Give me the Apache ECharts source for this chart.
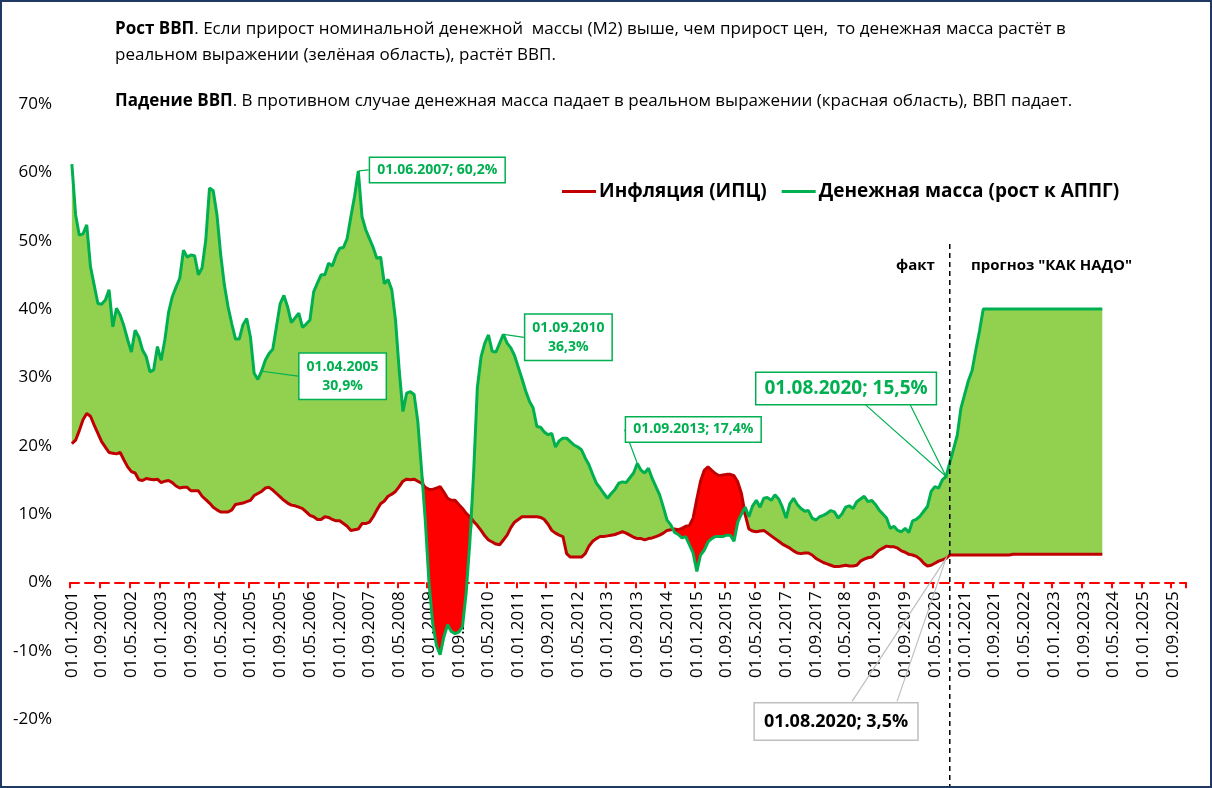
<!DOCTYPE html>
<html><head><meta charset="utf-8">
<script src="https://cdn.jsdelivr.net/npm/echarts@6/dist/echarts.min.js"></script>
<style>
html,body{margin:0;padding:0;background:#fff}
#c{width:1212px;height:788px;position:absolute;left:0;top:0}
#frame{position:absolute;left:0;top:0;width:1212px;height:788px;box-sizing:border-box;border:2px solid #1F3864;pointer-events:none}
</style>
</head><body><div id="c"></div><div id="frame"></div>
<script>
// ---------- categories (monthly, 01.01.2001 .. 01.12.2025) ----------
const categories = [];
for (let y = 2001; y <= 2025; y++) for (let mo = 1; mo <= 12; mo++) categories.push('01.' + String(mo).padStart(2, '0') + '.' + y);

// ---------- Money supply M2, growth y/y, % (fact 2001-01 .. 2020-08) ----------
const m2_2001_2004 = [
  61.2, 53.8, 50.8, 51.0, 52.3, 46.2, 43.5, 40.8, 40.7, 41.3, 42.8, 37.4,
  40.1, 39.1, 37.5, 35.5, 33.7, 36.9, 35.9, 34.0, 33.0, 30.8, 31.1, 34.5,
  32.5, 35.5, 39.5, 41.8, 43.2, 44.5, 48.6, 47.6, 47.9, 47.8, 45.0, 46.0,
  50.1, 57.7, 57.3, 53.8, 48.0, 43.5, 40.3, 37.8, 35.6, 35.6, 37.7, 38.6
];
const m2_2005_2008 = [
  35.9, 30.6, 29.7, 30.9, 32.5, 33.5, 34.1, 37.4, 40.8, 42.0, 40.3, 38.0,
  38.7, 39.4, 37.3, 37.8, 38.4, 42.5, 43.8, 45.0, 45.0, 46.7, 46.3, 47.8,
  48.9, 49.0, 50.3, 53.5, 56.5, 60.2, 53.5, 51.6, 50.3, 49.0, 47.4, 47.6,
  43.7, 44.3, 42.8, 38.4, 31.0, 25.0, 27.7, 27.9, 27.5, 23.5, 16.5, 9.1
];
const m2_2009_2012 = [
  0.0, -6.0, -9.2, -10.6, -8.0, -6.2, -7.2, -7.5, -7.3, -6.5, -1.5, 6.0,
  16.0, 28.5, 33.0, 35.0, 36.2, 33.8, 33.7, 35.0, 36.3, 35.0, 34.3, 33.2,
  31.5, 29.8, 28.0, 26.5, 25.5, 22.8, 22.7, 22.0, 21.6, 21.8, 19.8, 20.7,
  21.1, 21.1, 20.6, 20.1, 19.8, 19.4, 18.2, 17.2, 15.8, 14.5, 13.8, 13.0
];
const m2_2013_2016 = [
  12.3, 13.0, 13.6, 14.5, 14.7, 14.6, 15.3, 16.0, 17.4, 16.4, 16.0, 16.7,
  15.2, 14.0, 12.8, 11.0, 9.1, 8.4, 7.3, 7.0, 6.5, 6.7, 5.5, 4.3,
  1.6, 4.0, 4.7, 5.9, 6.4, 6.7, 6.7, 6.7, 6.9, 6.9, 6.0, 8.8,
  10.0, 11.0, 9.6, 11.2, 12.0, 11.0, 12.3, 12.4, 12.0, 12.8, 12.2, 11.0
];
const m2_2017_2020 = [
  9.4, 11.5, 12.3, 11.4, 10.8, 10.4, 10.5, 9.4, 9.1, 9.6, 9.8, 10.1,
  10.5, 10.3, 9.4, 10.0, 11.0, 11.2, 10.8, 11.8, 12.2, 12.6, 11.8, 12.0,
  11.4, 10.6, 10.0, 9.4, 7.9, 8.2, 7.6, 7.4, 7.9, 7.3, 9.0, 9.2,
  9.7, 10.4, 11.1, 13.3, 14.0, 13.8, 15.0, 15.5
];
// forecast "КАК НАДО" 2020-09 .. 2024-02
const m2Forecast = [
  17.5, 19.5, 21.5, 25.5, 27.5, 29.5, 31.0, 34.0, 36.8,
  40.0, 40.0, 40.0, 40.0, 40.0, 40.0, 40.0, 40.0, 40.0, 40.0, 40.0,
  40.0, 40.0, 40.0, 40.0, 40.0, 40.0, 40.0, 40.0, 40.0, 40.0, 40.0,
  40.0, 40.0, 40.0, 40.0, 40.0, 40.0, 40.0, 40.0, 40.0, 40.0, 40.0
];

// ---------- Inflation CPI y/y, % ----------
const cpi_2001_2004 = [
  20.3, 20.8, 22.2, 23.8, 24.7, 24.3, 23.0, 21.8, 20.6, 19.8, 19.0, 18.9,
  18.8, 19.0, 17.9, 16.9, 16.2, 16.0, 15.0, 14.9, 15.2, 15.1, 15.0, 15.1,
  14.6, 14.8, 14.9, 14.6, 14.1, 13.8, 13.9, 13.9, 13.4, 13.4, 13.4, 12.6,
  12.1, 11.6, 11.0, 10.6, 10.3, 10.3, 10.3, 10.6, 11.4, 11.5, 11.6, 11.8
];
const cpi_2005_2008 = [
  12.0, 12.7, 13.0, 13.3, 13.8, 13.9, 13.5, 13.0, 12.5, 12.0, 11.6, 11.3,
  11.2, 11.0, 10.8, 10.3, 9.8, 9.6, 9.2, 9.2, 9.6, 9.5, 9.2, 9.0,
  9.0, 8.6, 8.2, 7.6, 7.7, 7.8, 8.6, 8.6, 8.8, 9.6, 10.6, 11.5,
  11.9, 12.6, 12.9, 13.3, 14.0, 14.8, 15.1, 15.0, 15.1, 14.8, 14.5, 13.9
];
const cpi_2009_2012 = [
  13.6, 13.6, 13.8, 14.0, 13.2, 12.3, 12.0, 12.0, 11.4, 10.8, 10.1, 9.6,
  8.9, 8.3, 7.6, 6.8, 6.2, 5.9, 5.6, 5.5, 6.2, 6.9, 8.0, 8.8,
  9.2, 9.6, 9.6, 9.6, 9.6, 9.6, 9.5, 9.2, 8.5, 7.6, 7.2, 6.9,
  6.7, 4.2, 3.7, 3.7, 3.7, 3.7, 4.2, 5.3, 6.0, 6.4, 6.7, 6.7
];
const cpi_2013_2016 = [
  6.8, 6.9, 7.0, 7.2, 7.4, 7.2, 6.9, 6.6, 6.4, 6.4, 6.2, 6.4,
  6.5, 6.7, 6.9, 7.2, 7.6, 7.7, 7.8, 7.7, 7.9, 8.2, 8.3, 9.4,
  12.2, 14.8, 16.4, 16.9, 16.4, 15.9, 15.6, 15.7, 15.8, 15.8, 15.6, 14.7,
  13.0, 9.9, 7.8, 7.5, 7.4, 7.5, 7.6, 7.2, 6.8, 6.4, 6.0, 5.6
];
const cpi_2017_2020 = [
  5.3, 5.0, 4.6, 4.3, 4.2, 4.3, 4.3, 4.0, 3.5, 3.2, 2.9, 2.7,
  2.5, 2.3, 2.3, 2.4, 2.5, 2.4, 2.4, 2.5, 3.1, 3.4, 3.6, 3.7,
  4.2, 4.7, 5.0, 5.3, 5.2, 5.2, 5.0, 4.6, 4.4, 4.1, 4.0, 3.8,
  3.4, 2.8, 2.4, 2.5, 2.8, 3.1, 3.3, 3.5
];
const cpiForecast = [
  4.0, 4.0, 4.0, 4.0, 4.0, 4.0, 4.0, 4.0, 4.0, 4.0, 4.0, 4.0, 4.0, 4.0, 4.0, 4.0, 4.0,
  4.1, 4.1, 4.1, 4.1, 4.1, 4.1, 4.1, 4.1, 4.1, 4.1, 4.1, 4.1, 4.1,
  4.1, 4.1, 4.1, 4.1, 4.1, 4.1, 4.1, 4.1, 4.1, 4.1, 4.1, 4.1
];

// ---------- callouts (date of the point) ----------
const greenCallouts = ['01.04.2005', '01.06.2007', '01.09.2010', '01.09.2013', '01.08.2020'];
const redCallouts = ['01.08.2020'];
const FACT_END = '01.09.2020';
const Y_MIN = -20, Y_MAX = 70, Y_STEP = 10;

// ---------- build ----------
const FONT = "'Open Sans', 'Noto Sans', sans-serif";
const GRID = { left: 70, right: 26, top: 104, bottom: 69 };
const gridH = 788 - GRID.top - GRID.bottom;
const m2 = [].concat(m2_2001_2004, m2_2005_2008, m2_2009_2012, m2_2013_2016, m2_2017_2020, m2Forecast);
const cpi = [].concat(cpi_2001_2004, cpi_2005_2008, cpi_2009_2012, cpi_2013_2016, cpi_2017_2020, cpiForecast);
const full = arr => categories.map((_, i) => (i < arr.length ? arr[i] : null));
const G = full(m2), R = full(cpi);
const base = G.map((g, i) => (g == null || R[i] == null ? null : Math.min(g, R[i])));
const gBand = G.map((g, i) => (g == null || R[i] == null ? null : Math.max(g - R[i], 0)));
const rBand = G.map((g, i) => (g == null || R[i] == null ? null : Math.max(R[i] - g, 0)));

const fmt = v => v.toFixed(1).replace('.', ',') + '%';
// callout box offsets (box centre relative to its point) and wedge bases (relative to box centre)
const greenLayout = {
  '01.04.2005': { dx: 81, dy: 5, twoLine: true },
  '01.06.2007': { dx: 79, dy: -1 },
  '01.09.2010': { dx: 65, dy: 3, twoLine: true },
  '01.09.2013': { dx: 56, dy: -34 },
  '01.08.2020': { dx: -100, dy: -88, big: true, wedge: [[19, 16], [64, 16]] }
};
const redLayout = { dx: -110, dy: 163, wedge: [[16, -20], [61, -20]] };

const greenAnnData = greenCallouts.map(d => {
  const i = categories.indexOf(d);
  const L = greenLayout[d];
  return {
    value: [d, G[i]], name: d,
    labelLine: { show: !L.wedge },
    label: {
      formatter: L.twoLine ? d + '\n' + fmt(G[i]) : d + '; ' + fmt(G[i]),
      fontSize: L.big ? 19 : 14,
      lineHeight: L.big ? 24 : 19,
      padding: L.big ? [4, 8, 3, 8] : (L.twoLine ? [4, 7, 3, 7] : [3, 7, 2, 7])
    }
  };
});
const redAnnData = redCallouts.map(d => {
  const i = categories.indexOf(d);
  return { value: [d, R[i]], name: d, label: { formatter: d + '; ' + fmt(R[i]) } };
});

const chart = echarts.init(document.getElementById('c'), null, { renderer: 'canvas' });
const bandCommon = { type: 'line', stack: 'band', stackStrategy: 'all', symbol: 'none', silent: true, lineStyle: { width: 0, opacity: 0 }, z: 1 };

chart.setOption({
  animation: false,
  backgroundColor: '#fff',
  textStyle: { fontFamily: FONT },
  grid: Object.assign({ containLabel: false, outerBoundsMode: 'none' }, GRID),
  legend: {
    data: [{ name: 'Инфляция (ИПЦ)', icon: 'rect' }, { name: 'Денежная масса (рост к АППГ)', icon: 'rect' }],
    left: 557, top: 177, itemWidth: 34, itemHeight: 3, itemGap: 15, selectedMode: false,
    textStyle: { fontSize: 19, fontWeight: 'bold', color: '#000', fontFamily: FONT, padding: [0, 0, 0, -2] }
  },
  xAxis: {
    type: 'category', data: categories, boundaryGap: true, position: 'bottom',
    offset: -gridH * (0 - Y_MIN) / (Y_MAX - Y_MIN),
    axisLine: { onZero: false, lineStyle: { color: '#FF0000', width: 2, type: [9, 6] } },
    axisTick: { show: true, interval: 7, length: 6, lineStyle: { color: '#FF0000', width: 2 } },
    axisLabel: { interval: 7, rotate: 90, fontSize: 17, color: '#000', fontFamily: FONT, margin: 9 },
    splitLine: { show: false }
  },
  yAxis: {
    type: 'value', min: Y_MIN, max: Y_MAX, interval: Y_STEP,
    axisLine: { show: false }, axisTick: { show: false }, splitLine: { show: false },
    axisLabel: { formatter: '{value}%', fontSize: 17, color: '#000', fontFamily: FONT, margin: 18 }
  },
  series: [
    Object.assign({ name: 'base', data: base }, bandCommon),
    Object.assign({ name: 'gBand', data: gBand, areaStyle: { color: '#92D050', opacity: 1 } }, bandCommon),
    Object.assign({ name: 'rBand', data: rBand, areaStyle: { color: '#FF0000', opacity: 1 } }, bandCommon),
    {
      name: 'Инфляция (ИПЦ)', type: 'line', data: R, symbol: 'none', z: 3,
      lineStyle: { color: '#C00000', width: 3 }, itemStyle: { color: '#C00000' }
    },
    {
      name: 'Денежная масса (рост к АППГ)', type: 'line', data: G, symbol: 'none', z: 4,
      lineStyle: { color: '#00B050', width: 3 }, itemStyle: { color: '#00B050' }
    },
    {
      name: 'greenAnn', type: 'scatter', data: greenAnnData, symbolSize: 1, z: 6,
      itemStyle: { color: 'transparent', opacity: 1 },
      label: {
        show: true, position: 'inside', color: '#00B050', fontWeight: 'bold', fontFamily: FONT, opacity: 1,
        backgroundColor: '#ffffff', borderColor: '#00B050', borderWidth: 1.5, align: 'center'
      },
      labelLine: { show: true, lineStyle: { color: '#00B050', width: 1.2, opacity: 1 } },
      labelLayout: p => { const L = greenLayout[greenCallouts[p.dataIndex]]; return { dx: L.dx, dy: L.dy }; }
    },
    {
      name: 'redAnn', type: 'scatter', data: redAnnData, symbolSize: 1, z: 6,
      itemStyle: { color: 'transparent', opacity: 1 },
      label: {
        show: true, position: 'inside', color: '#000', fontWeight: 'bold', fontSize: 18, fontFamily: FONT, opacity: 1,
        backgroundColor: '#ffffff', borderColor: '#BFBFBF', borderWidth: 1.5, padding: [10, 9, 8, 9]
      },
      labelLine: { show: false },
      labelLayout: () => ({ dx: redLayout.dx, dy: redLayout.dy })
    }
  ]
});

// texts, callout wedges and the fact/forecast separator (all anchored through the axis scales)
const toPx = (cat, v) => chart.convertToPixel({ xAxisIndex: 0, yAxisIndex: 0 }, [cat, v]);
const sepTop = toPx(FACT_END, 49.5);
const wedge = (p, L, color) => ({
  type: 'polyline', silent: true, z: 5,
  shape: { points: [[p[0] + L.dx + L.wedge[0][0], p[1] + L.dy + L.wedge[0][1]], p, [p[0] + L.dx + L.wedge[1][0], p[1] + L.dy + L.wedge[1][1]]] },
  style: { stroke: color, lineWidth: 1.2, fill: null }
});
const gIdx = categories.indexOf('01.08.2020');
const pG = toPx('01.08.2020', G[gIdx]);
const pR = toPx('01.08.2020', R[gIdx]);

chart.setOption({
  graphic: [
    { type: 'text', left: 115, top: 21, silent: true, style: { text: '{b|Рост ВВП}. Если прирост номинальной денежной  массы (М2) выше, чем прирост цен,  то денежная масса растёт в', font: '17px ' + FONT, fill: '#000', rich: { b: { font: 'bold 17px ' + FONT, fill: '#000' } } } },
    { type: 'text', left: 115, top: 47, silent: true, style: { text: 'реальном выражении (зелёная область), растёт ВВП.', font: '17px ' + FONT, fill: '#000' } },
    { type: 'text', left: 115, top: 93, silent: true, style: { text: '{b|Падение ВВП}. В противном случае денежная масса падает в реальном выражении (красная область), ВВП падает.', font: '17px ' + FONT, fill: '#000', rich: { b: { font: 'bold 17px ' + FONT, fill: '#000' } } } },
    { type: 'text', left: 896, top: 258, silent: true, style: { text: 'факт', font: 'bold 15px ' + FONT, fill: '#000' } },
    { type: 'text', left: 971, top: 258, silent: true, style: { text: 'прогноз "КАК НАДО"', font: 'bold 15px ' + FONT, fill: '#000' } },
    { type: 'line', silent: true, z: 5, shape: { x1: sepTop[0], y1: sepTop[1], x2: sepTop[0], y2: 788 }, style: { stroke: '#000', lineWidth: 1.5, lineDash: [5, 4] } },
    wedge(pG, greenLayout['01.08.2020'], '#00B050'),
    wedge(pR, redLayout, '#BFBFBF')
  ]
});
</script>
</body></html>
